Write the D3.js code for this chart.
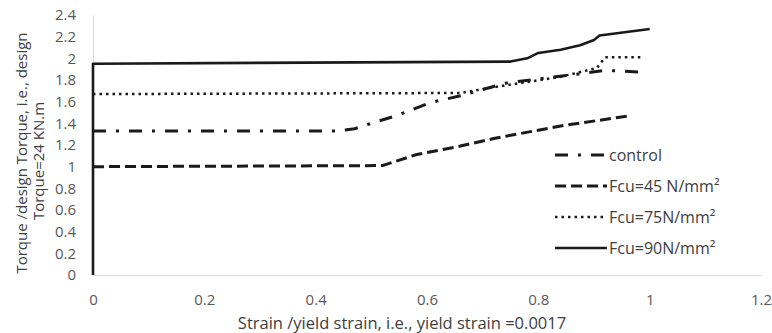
<!DOCTYPE html>
<html>
<head>
<meta charset="utf-8">
<script src="https://cdn.jsdelivr.net/npm/d3@7"></script>
<style>
  body { margin: 0; background: #fff; }
  text { font-family: "Open Sans", "Noto Sans", sans-serif; }
</style>
</head>
<body>
<svg id="chart" width="772" height="333"></svg>
<script>
// values
var controlX = [0, 0.44, 0.47, 0.506, 0.545, 0.605, 0.665, 0.74, 0.815, 0.88, 0.92, 0.99];
var controlY = [1.33, 1.33, 1.35, 1.41, 1.47, 1.59, 1.66, 1.77, 1.82, 1.86, 1.89, 1.87];
var fcu45X = [0, 0.52, 0.58, 0.66, 0.72, 0.845, 0.965];
var fcu45Y = [1.0, 1.01, 1.11, 1.19, 1.26, 1.38, 1.47];
var fcu75X = [0, 0.66, 0.74, 0.84, 0.905, 0.92, 0.99];
var fcu75Y = [1.67, 1.68, 1.75, 1.83, 1.91, 2.01, 2.01];
var fcu90X = [0, 0, 0.75, 0.78, 0.8, 0.84, 0.875, 0.9, 0.91, 1.0];
var fcu90Y = [0, 1.95, 1.97, 2.0, 2.05, 2.08, 2.12, 2.17, 2.21, 2.27];

var seriesNames = ["control", "Fcu=45 N/mm\u00b2", "Fcu=75N/mm\u00b2", "Fcu=90N/mm\u00b2"];
var xTicks = [0, 0.2, 0.4, 0.6, 0.8, 1, 1.2];
var yTicks = [0, 0.2, 0.4, 0.6, 0.8, 1, 1.2, 1.4, 1.6, 1.8, 2, 2.2, 2.4];

var margin = {top: 15, right: 11, bottom: 58, left: 93},
    W = 772, H = 333,
    w = W - margin.left - margin.right,
    h = H - margin.top - margin.bottom;

var svg = d3.select("#chart");
var g = svg.append("g").attr("transform", "translate(" + margin.left + "," + margin.top + ")");

var x = d3.scaleLinear().domain([0, 1.2]).range([0, w]);
var y = d3.scaleLinear().domain([0, 2.4]).range([h, 0]);

// axes
var xAxis = g.append("g").attr("transform", "translate(0," + h + ")")
    .call(d3.axisBottom(x).tickValues(xTicks).tickSize(0).tickPadding(19)
      .tickFormat(function(d) { return String(d); }));
var yAxis = g.append("g")
    .call(d3.axisLeft(y).tickValues(yTicks).tickSize(0).tickPadding(17)
      .tickFormat(function(d) { return String(d); }));
[xAxis, yAxis].forEach(function(a) {
  a.select(".domain").attr("stroke", "#d9d9d9").attr("stroke-width", 1);
  a.selectAll("text").attr("fill", "#595959").style("font-size", "15px")
    .style("font-family", "\"Open Sans\", sans-serif");
});

var styles = [
  {dash: "13,10,3,10", width: 3},
  {dash: "11,5", width: 3},
  {dash: "2.5,4", width: 2.5},
  {dash: null, width: 2.6}
];
var series = [
  d3.zip(controlX, controlY),
  d3.zip(fcu45X, fcu45Y),
  d3.zip(fcu75X, fcu75Y),
  d3.zip(fcu90X, fcu90Y)
];

var line = d3.line().x(function(d) { return x(d[0]); }).y(function(d) { return y(d[1]); });

series.forEach(function(s, i) {
  g.append("path")
    .datum(s)
    .attr("d", line)
    .attr("fill", "none")
    .attr("stroke", "#1a1a1a")
    .attr("stroke-width", styles[i].width)
    .attr("stroke-dasharray", styles[i].dash)
    .attr("stroke-linejoin", "round");
});

// legend
var legend = svg.append("g").attr("transform", "translate(555,155)");
seriesNames.forEach(function(name, i) {
  var row = legend.append("g").attr("transform", "translate(0," + (i * 31) + ")");
  row.append("line")
    .attr("x1", 0).attr("x2", 52).attr("y1", 0).attr("y2", 0)
    .attr("stroke", "#1a1a1a")
    .attr("stroke-width", styles[i].width)
    .attr("stroke-dasharray", styles[i].dash);
  row.append("text")
    .attr("x", 54).attr("y", 0).attr("dy", "0.35em")
    .attr("fill", "#404040")
    .style("font-size", "16px")
    .text(name);
});

// axis titles
svg.append("text")
  .attr("x", 402).attr("y", 329)
  .attr("text-anchor", "middle")
  .attr("fill", "#404040")
  .style("font-size", "16.5px")
  .text("Strain /yield strain, i.e., yield strain =0.0017");

var yTitle = svg.append("text")
  .attr("transform", "translate(27,153) rotate(-90)")
  .attr("text-anchor", "middle")
  .attr("fill", "#404040")
  .style("font-size", "15px");
yTitle.append("tspan").attr("x", 0).attr("y", 0).text("Torque /design Torque, i.e., design");
yTitle.append("tspan").attr("x", -8).attr("y", 17).text("Torque=24 KN.m");
</script>
</body>
</html>
